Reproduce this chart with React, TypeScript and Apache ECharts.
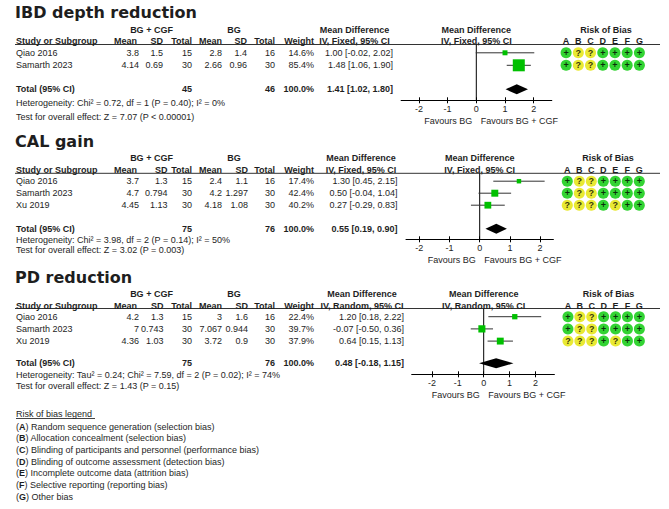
import React, { useEffect, useRef } from "react";
import * as echarts from "echarts";

const FONT = "'Liberation Sans', Arial, sans-serif";
const TITLE_FONT = "'DejaVu Sans', sans-serif";
const TEXT = "#1e1e1e";
const GREEN = "#00c000";
const ROB_GREEN = "#00c800";
const ROB_YELLOW = "#e4e400";

const ticks = [-2, -1, 0, 1, 2];
const robCols = ["A", "B", "C", "D", "E", "F", "G"];

// ---------- IBD depth reduction ----------
const ibdTitle = "IBD depth reduction";
const ibdStudies = ["Qiao 2016", "Samarth 2023"];
const ibdExpMean = [3.8, 4.14];
const ibdExpSD = [1.5, 0.69];
const ibdExpN = [15, 30];
const ibdCtlMean = [2.8, 2.66];
const ibdCtlSD = [1.4, 0.96];
const ibdCtlN = [16, 30];
const ibdWeight = [14.6, 85.4];
const ibdMD = [1.0, 1.48];
const ibdLo = [-0.02, 1.06];
const ibdHi = [2.02, 1.9];
const ibdTotalN = [45, 46];
const ibdTotalMD = [1.41, 1.02, 1.8];
const ibdRob = ["+??++++", "+??++++"];
const ibdMethod = "IV, Fixed, 95% CI";
const ibdHet = "Heterogeneity: Chi² = 0.72, df = 1 (P = 0.40); I² = 0%";
const ibdTest = "Test for overall effect: Z = 7.07 (P < 0.00001)";

// ---------- CAL gain ----------
const calTitle = "CAL gain";
const calStudies = ["Qiao 2016", "Samarth 2023", "Xu 2019"];
const calExpMean = [3.7, 4.7, 4.45];
const calExpSD = [1.3, 0.794, 1.13];
const calExpN = [15, 30, 30];
const calCtlMean = [2.4, 4.2, 4.18];
const calCtlSD = [1.1, 1.297, 1.08];
const calCtlN = [16, 30, 30];
const calWeight = [17.4, 42.4, 40.2];
const calMD = [1.3, 0.5, 0.27];
const calLo = [0.45, -0.04, -0.29];
const calHi = [2.15, 1.04, 0.83];
const calTotalN = [75, 76];
const calTotalMD = [0.55, 0.19, 0.9];
const calRob = ["+??++++", "+??++++", "???+?++"];
const calMethod = "IV, Fixed, 95% CI";
const calHet = "Heterogeneity: Chi² = 3.98, df = 2 (P = 0.14); I² = 50%";
const calTest = "Test for overall effect: Z = 3.02 (P = 0.003)";

// ---------- PD reduction ----------
const pdTitle = "PD reduction";
const pdStudies = ["Qiao 2016", "Samarth 2023", "Xu 2019"];
const pdExpMean = [4.2, 7, 4.36];
const pdExpSD = [1.3, 0.743, 1.03];
const pdExpN = [15, 30, 30];
const pdCtlMean = [3, 7.067, 3.72];
const pdCtlSD = [1.6, 0.944, 0.9];
const pdCtlN = [16, 30, 30];
const pdWeight = [22.4, 39.7, 37.9];
const pdMD = [1.2, -0.07, 0.64];
const pdLo = [0.18, -0.5, 0.15];
const pdHi = [2.22, 0.36, 1.13];
const pdTotalN = [75, 76];
const pdTotalMD = [0.48, -0.18, 1.15];
const pdRob = ["+??++++", "+??++++", "???+?++"];
const pdMethod = "IV, Random, 95% CI";
const pdHet = "Heterogeneity: Tau² = 0.24; Chi² = 7.59, df = 2 (P = 0.02); I² = 74%";
const pdTest = "Test for overall effect: Z = 1.43 (P = 0.15)";

// ---------- Legend ----------
const legendTitle = "Risk of bias legend";
const legendItems = [
  "Random sequence generation (selection bias)",
  "Allocation concealment (selection bias)",
  "Blinding of participants and personnel (performance bias)",
  "Blinding of outcome assessment (detection bias)",
  "Incomplete outcome data (attrition bias)",
  "Selective reporting (reporting bias)",
  "Other bias",
];

// ---------- Layout (pixels) ----------
const layouts = [
  { titleY: 12, head1Y: 29.5, head2Y: 41.3, lineY: 44.5, row0: 52.8, step: 12.5, totalY: 89.3, hetY: 103, testY: 116.5,
    axisY: 100.3, xMin: -2.62, xMax: 2.63, gridLeft: 401.1, gridWidth: 150.7, favY: 121,
    robLeft: 560, robWidth: 85.5, robHeadX: 606, sdR: 163, sd2R: 247, mdR: 393, mdC: 354.5, boxK: 1.3 },
  { titleY: 141.3, head1Y: 158.3, head2Y: 170, lineY: 173.3, row0: 181.2, step: 12, totalY: 228.8, hetY: 239.5, testY: 250,
    axisY: 239.3, xMin: -2.44, xMax: 2.44, gridLeft: 406, gridWidth: 147.4, favY: 260,
    robLeft: 561.3, robWidth: 84, robHeadX: 608, sdR: 167.5, sd2R: 248, mdR: 397.5, mdC: 361, boxK: 1.07 },
  { titleY: 277.5, head1Y: 294.3, head2Y: 306, lineY: 308.5, row0: 316.7, step: 12.2, totalY: 363.3, hetY: 375, testY: 385.8,
    axisY: 374.3, xMin: -2.78, xMax: 2.73, gridLeft: 411.7, gridWidth: 142.7, favY: 395,
    robLeft: 562, robWidth: 83.3, robHeadX: 608.5, sdR: 163.5, sd2R: 248, mdR: 404, mdC: 362, boxK: 1.12 },
];

const panels = [
  { title: ibdTitle, studies: ibdStudies, expMean: ibdExpMean, expSD: ibdExpSD, expN: ibdExpN, ctlMean: ibdCtlMean,
    ctlSD: ibdCtlSD, ctlN: ibdCtlN, weight: ibdWeight, md: ibdMD, lo: ibdLo, hi: ibdHi, totalN: ibdTotalN,
    totalMD: ibdTotalMD, rob: ibdRob, method: ibdMethod, het: ibdHet, test: ibdTest },
  { title: calTitle, studies: calStudies, expMean: calExpMean, expSD: calExpSD, expN: calExpN, ctlMean: calCtlMean,
    ctlSD: calCtlSD, ctlN: calCtlN, weight: calWeight, md: calMD, lo: calLo, hi: calHi, totalN: calTotalN,
    totalMD: calTotalMD, rob: calRob, method: calMethod, het: calHet, test: calTest },
  { title: pdTitle, studies: pdStudies, expMean: pdExpMean, expSD: pdExpSD, expN: pdExpN, ctlMean: pdCtlMean,
    ctlSD: pdCtlSD, ctlN: pdCtlN, weight: pdWeight, md: pdMD, lo: pdLo, hi: pdHi, totalN: pdTotalN,
    totalMD: pdTotalMD, rob: pdRob, method: pdMethod, het: pdHet, test: pdTest },
];

const f2 = (v: number) => v.toFixed(2);
const mdText = (m: number, l: number, h: number) => `${f2(m)} [${f2(l)}, ${f2(h)}]`;

function T(x: number, y: number, text: string, align = "left", bold = false, size = 9, family = FONT) {
  return {
    type: "text", x, y, silent: true, z: 10,
    style: { text, fill: TEXT, fontSize: size, fontFamily: family, fontWeight: bold ? "bold" : "normal", align, verticalAlign: "middle" },
  };
}
function L(x1: number, y1: number, x2: number, y2: number, color = "#333") {
  return { type: "line", silent: true, shape: { x1, y1, x2, y2 }, style: { stroke: color, lineWidth: 1 } };
}

function buildOption() {
  const grids: any[] = [];
  const xAxes: any[] = [];
  const yAxes: any[] = [];
  const series: any[] = [];
  const graphics: any[] = [];

  panels.forEach((p, pi) => {
    const lay = layouts[pi];
    const yMin = -(lay.row0 - lay.lineY) / lay.step;
    const yMax = (lay.axisY - lay.row0) / lay.step;
    const totalIdx = (lay.totalY - lay.row0) / lay.step;
    const zeroX = lay.gridLeft + ((0 - lay.xMin) / (lay.xMax - lay.xMin)) * lay.gridWidth;
    const gTop = lay.lineY;
    const gH = lay.axisY - lay.lineY;

    grids.push({ left: lay.gridLeft, top: gTop, width: lay.gridWidth, height: gH });
    grids.push({ left: lay.robLeft, top: gTop, width: lay.robWidth, height: gH });
    const fg = pi * 2;
    const rg = pi * 2 + 1;

    xAxes.push({
      type: "value", gridIndex: fg, min: lay.xMin, max: lay.xMax, position: "bottom",
      axisLine: { show: true, onZero: false, lineStyle: { color: "#000", width: 1 } },
      axisTick: { show: true, length: 3, customValues: ticks, lineStyle: { color: "#000", width: 1 } },
      axisLabel: { show: true, customValues: ticks, margin: 4, fontSize: 9, fontFamily: FONT, color: TEXT, formatter: (v: number) => String(v) },
      splitLine: { show: false },
    });
    xAxes.push({
      type: "value", gridIndex: fg, min: lay.xMin, max: lay.xMax, position: "bottom",
      axisLine: { show: false, onZero: false },
      axisTick: { show: true, inside: true, length: 3, customValues: ticks, lineStyle: { color: "#000", width: 1 } },
      axisLabel: { show: false },
      splitLine: { show: false },
    });
    xAxes.push({
      type: "category", gridIndex: rg, data: robCols, position: "top", boundaryGap: true,
      axisLine: { show: false }, axisTick: { show: false },
      axisLabel: { show: true, margin: lay.lineY - lay.head2Y, verticalAlign: "middle", fontSize: 9, fontWeight: "bold", fontFamily: FONT, color: TEXT },
      splitLine: { show: false },
    });
    yAxes.push({ type: "value", gridIndex: fg, inverse: true, min: yMin, max: yMax, show: false, splitLine: { show: false } });
    yAxes.push({ type: "value", gridIndex: rg, inverse: true, min: yMin, max: yMax, show: false, splitLine: { show: false } });

    const forestData: any[] = p.studies.map((_, i) => [p.md[i], p.lo[i], p.hi[i], i, p.weight[i], 0]);
    forestData.push([p.totalMD[0], p.totalMD[1], p.totalMD[2], totalIdx, 100, 1]);
    const k = lay.boxK;

    series.push({
      type: "line", xAxisIndex: pi * 3, yAxisIndex: fg, data: [[0, yMin], [0, yMax]],
      symbol: "none", silent: true, lineStyle: { color: "#000", width: 1 }, z: 1,
    });
    series.push({
      type: "custom", xAxisIndex: pi * 3, yAxisIndex: fg, data: forestData, clip: false, silent: true, z: 3,
      encode: { x: [0, 1, 2], y: 3 },
      renderItem: (params: any, api: any) => {
        const est = api.value(0), lo = api.value(1), hi = api.value(2), row = api.value(3), w = api.value(4), tot = api.value(5);
        const pe = api.coord([est, row]);
        const xl = api.coord([lo, row])[0];
        const xh = api.coord([hi, row])[0];
        const y = pe[1];
        if (tot) {
          const h = 5;
          return { type: "polygon", shape: { points: [[xl, y], [pe[0], y - h], [xh, y], [pe[0], y + h]] }, style: { fill: "#000" } };
        }
        const s = k * Math.sqrt(w);
        return {
          type: "group",
          children: [
            { type: "line", shape: { x1: xl, y1: y, x2: xh, y2: y }, style: { stroke: "#333", lineWidth: 1 } },
            { type: "rect", shape: { x: pe[0] - s / 2, y: y - s / 2, width: s, height: s }, style: { fill: GREEN } },
          ],
        };
      },
    });

    const robData: any[] = [];
    p.rob.forEach((row, ri) => {
      row.split("").forEach((sym, ci) => {
        robData.push({ value: [ci, ri, sym], itemStyle: { color: sym === "+" ? ROB_GREEN : ROB_YELLOW } });
      });
    });
    series.push({
      type: "scatter", xAxisIndex: pi * 3 + 2, yAxisIndex: rg, data: robData, symbol: "circle", symbolSize: 11, silent: true,
      label: { show: true, position: "inside", formatter: (q: any) => q.value[2], color: "#000", fontSize: 9, fontWeight: "bold", fontFamily: FONT },
    });

    // ---- table texts ----
    const cx = 16;
    const meanR = 139;
    graphics.push(T(15, lay.titleY, p.title, "left", true, 16, TITLE_FONT));
    graphics.push(T(151.5, lay.head1Y, "BG + CGF", "center", true));
    graphics.push(T(234, lay.head1Y, "BG", "center", true));
    graphics.push(T(lay.mdC, lay.head1Y, "Mean Difference", "center", true));
    graphics.push(T(zeroX, lay.head1Y, "Mean Difference", "center", true));
    graphics.push(T(lay.robHeadX, lay.head1Y, "Risk of Bias", "center", true));

    graphics.push(T(cx, lay.head2Y, "Study or Subgroup", "left", true));
    graphics.push(T(137, lay.head2Y, "Mean", "right", true));
    graphics.push(T(lay.sdR, lay.head2Y, "SD", "right", true));
    graphics.push(T(192, lay.head2Y, "Total", "right", true));
    graphics.push(T(222, lay.head2Y, "Mean", "right", true));
    graphics.push(T(lay.sd2R, lay.head2Y, "SD", "right", true));
    graphics.push(T(275, lay.head2Y, "Total", "right", true));
    graphics.push(T(314, lay.head2Y, "Weight", "right", true));
    graphics.push(T(lay.mdC, lay.head2Y, p.method, "center", true));
    graphics.push(T(zeroX, lay.head2Y, p.method, "center", true));
    graphics.push(L(15, lay.lineY, 660, lay.lineY));

    p.studies.forEach((s, i) => {
      const y = lay.row0 + i * lay.step;
      graphics.push(T(cx, y, s));
      graphics.push(T(meanR, y, String(p.expMean[i]), "right"));
      graphics.push(T(lay.sdR, y, String(p.expSD[i]), "right"));
      graphics.push(T(192, y, String(p.expN[i]), "right"));
      graphics.push(T(222, y, String(p.ctlMean[i]), "right"));
      graphics.push(T(lay.sd2R, y, String(p.ctlSD[i]), "right"));
      graphics.push(T(275, y, String(p.ctlN[i]), "right"));
      graphics.push(T(314, y, p.weight[i].toFixed(1) + "%", "right"));
      graphics.push(T(lay.mdR, y, mdText(p.md[i], p.lo[i], p.hi[i]), "right"));
    });
    graphics.push(T(cx, lay.totalY, "Total (95% CI)", "left", true));
    graphics.push(T(192, lay.totalY, String(p.totalN[0]), "right", true));
    graphics.push(T(275, lay.totalY, String(p.totalN[1]), "right", true));
    graphics.push(T(314, lay.totalY, "100.0%", "right", true));
    graphics.push(T(lay.mdR, lay.totalY, mdText(p.totalMD[0], p.totalMD[1], p.totalMD[2]), "right", true));
    graphics.push(T(cx, lay.hetY, p.het));
    graphics.push(T(cx, lay.testY, p.test));
    graphics.push(T(zeroX - 4, lay.favY, "Favours BG", "right"));
    graphics.push(T(zeroX + 4.5, lay.favY, "Favours BG + CGF", "left"));
  });

  // ---- legend ----
  graphics.push(T(16, 414, legendTitle + " "));
  graphics.push(L(16, 418.5, 95, 418.5, "#444"));
  legendItems.forEach((item, i) => {
    graphics.push({
      type: "text", x: 16, y: 426.5 + i * 11.7, silent: true,
      style: {
        text: `({b|${robCols[i]}}) ${item}`,
        fill: TEXT, fontSize: 9, fontFamily: FONT, fontWeight: "normal", align: "left", verticalAlign: "middle",
        rich: { b: { fontWeight: "bold", fontSize: 9, fontFamily: FONT, fill: TEXT } },
      },
    });
  });

  return { animation: false, grid: grids, xAxis: xAxes, yAxis: yAxes, series, graphic: graphics };
}

export default function App() {
  const ref = useRef<HTMLDivElement>(null);
  useEffect(() => {
    document.body.style.margin = "0";
    const chart = echarts.init(ref.current as HTMLDivElement, null, { renderer: "svg" });
    chart.setOption(buildOption() as any);
    return () => chart.dispose();
  }, []);
  return <div ref={ref} style={{ position: "fixed", left: 0, top: 0, width: 669, height: 509, background: "#fff" }} />;
}
